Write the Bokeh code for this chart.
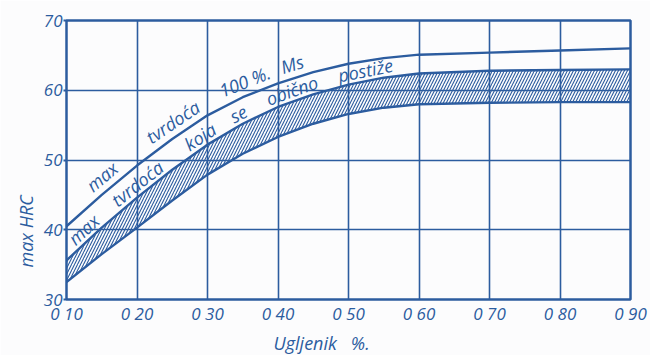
import numpy as np
from bokeh.plotting import figure
from bokeh.models import Range1d, FixedTicker, ColumnDataSource, Title
from bokeh.core.properties import value
from bokeh.embed import file_html
from bokeh.resources import INLINE

# Carbon content (%) and hardness values (HRC)
carbon = [0.10, 0.15, 0.20, 0.25, 0.30, 0.35, 0.40, 0.45, 0.50, 0.55, 0.60, 0.70, 0.80, 0.90]
hrc_100_ms = [40.5, 45.0, 49.2, 53.0, 56.4, 59.0, 61.0, 62.6, 63.8, 64.6, 65.1, 65.4, 65.7, 66.0]
hrc_usual_max = [35.6, 40.3, 44.6, 48.6, 52.2, 55.2, 57.6, 59.4, 60.8, 61.8, 62.4, 62.8, 62.9, 63.0]
hrc_usual_min = [32.5, 36.5, 40.3, 44.2, 47.9, 50.9, 53.3, 55.2, 56.6, 57.5, 58.0, 58.2, 58.3, 58.3]

x_ticks = [0.10, 0.20, 0.30, 0.40, 0.50, 0.60, 0.70, 0.80, 0.90]
x_tick_labels = ["0 10", "0 20", "0 30", "0 40", "0 50", "0 60", "0 70", "0 80", "0 90"]
y_ticks = [30, 40, 50, 60, 70]

# Curve captions, word by word, with the carbon value at which each word sits
ms_words = ["max", "tvrdoća", "100 %.", "Ms"]
ms_words_at = [0.163, 0.262, 0.360, 0.426]
usual_words = ["max", "tvrdoća", "koja", "se", "obično", "postiže"]
usual_words_at = [0.135, 0.210, 0.298, 0.351, 0.425, 0.527]

BLUE = "#2c5c9f"
PAPER = "#fcfcfd"
FONT = "Open Sans"

W, H = 650, 355
LEFT, RIGHT, TOP, BOTTOM = 66, 20, 20, 55
X0, X1, Y0, Y1 = 0.10, 0.90, 30, 70

p = figure(width=W, height=H, output_backend="svg", toolbar_location=None,
           x_range=Range1d(X0, X1), y_range=Range1d(Y0, Y1),
           min_border_left=LEFT, min_border_right=RIGHT,
           min_border_top=TOP, min_border_bottom=BOTTOM)
p.background_fill_color = PAPER
p.border_fill_color = PAPER
p.outline_line_color = BLUE
p.outline_line_width = 2.5

# Axes: labels only, frame drawn by the outline
p.xaxis.ticker = FixedTicker(ticks=x_ticks)
p.xaxis.major_label_overrides = {t: s for t, s in zip(x_ticks, x_tick_labels)}
p.yaxis.ticker = FixedTicker(ticks=y_ticks)
for ax in (p.xaxis[0], p.yaxis[0]):
    ax.axis_line_color = None
    ax.minor_tick_line_color = None
    ax.major_tick_line_color = BLUE
    ax.major_tick_line_width = 2
    ax.major_label_text_color = BLUE
    ax.major_label_text_font = FONT
    ax.major_label_text_font_style = "italic"
    ax.major_label_text_font_size = "17px"
p.xaxis.major_tick_out = 0
p.xaxis.major_tick_in = 0
p.xaxis.major_label_standoff = 2
p.yaxis.major_tick_out = 3
p.yaxis.major_tick_in = 0
p.yaxis.major_label_standoff = 1

# Grid
p.xgrid.ticker = FixedTicker(ticks=x_ticks)
p.ygrid.ticker = FixedTicker(ticks=y_ticks)
for g in (p.xgrid[0], p.ygrid[0]):
    g.grid_line_color = BLUE
    g.grid_line_width = 1.6
    g.grid_line_alpha = 1.0

# Hatched band of the usually attained hardness
src = ColumnDataSource(dict(x=carbon, ms=hrc_100_ms, hi=hrc_usual_max, lo=hrc_usual_min))
p.varea(x="x", y1="lo", y2="hi", source=src, fill_alpha=0,
        hatch_pattern="/", hatch_color=BLUE, hatch_scale=6, hatch_weight=1.1, hatch_alpha=1)
p.line(x="x", y="hi", source=src, line_color=BLUE, line_width=2.4)
p.line(x="x", y="lo", source=src, line_color=BLUE, line_width=2.4)
p.line(x="x", y="ms", source=src, line_color=BLUE, line_width=2.4)

# Captions following the curves
sx = (W - LEFT - RIGHT) / (X1 - X0)   # px per % carbon
sy = (H - TOP - BOTTOM) / (Y1 - Y0)   # px per HRC


def caption(words, at, xs, ys, offset_px):
    xs = np.asarray(xs, float)
    ys = np.asarray(ys, float)
    cx, cy, ang = [], [], []
    for xw in at:
        h = 0.01
        slope = (np.interp(xw + h, xs, ys) - np.interp(xw - h, xs, ys)) / (2 * h)
        a = np.arctan(slope * sy / sx)
        cx.append(xw - np.sin(a) * offset_px / sx)
        cy.append(np.interp(xw, xs, ys) + np.cos(a) * offset_px / sy)
        ang.append(a)
    p.text(x=cx, y=cy, text=words, angle=ang, text_color=BLUE,
           text_font=value(FONT), text_font_style="italic", text_font_size="18px",
           text_align="center", text_baseline="middle")


caption(ms_words, ms_words_at, carbon, hrc_100_ms, 14)
caption(usual_words, usual_words_at, carbon, hrc_usual_max, 11)

# Axis titles
p.add_layout(Title(text="max HRC", align="left", offset=32, standoff=6,
                   text_color=BLUE, text_font=FONT, text_font_style="italic",
                   text_font_size="18px"), "left")
p.add_layout(Title(text="Ugljenik\u00a0\u00a0\u00a0%.", align="left", offset=207, standoff=2,
                   text_color=BLUE, text_font=FONT, text_font_style="italic",
                   text_font_size="18px"), "below")

open("out.html", "w").write(file_html(p, INLINE))
